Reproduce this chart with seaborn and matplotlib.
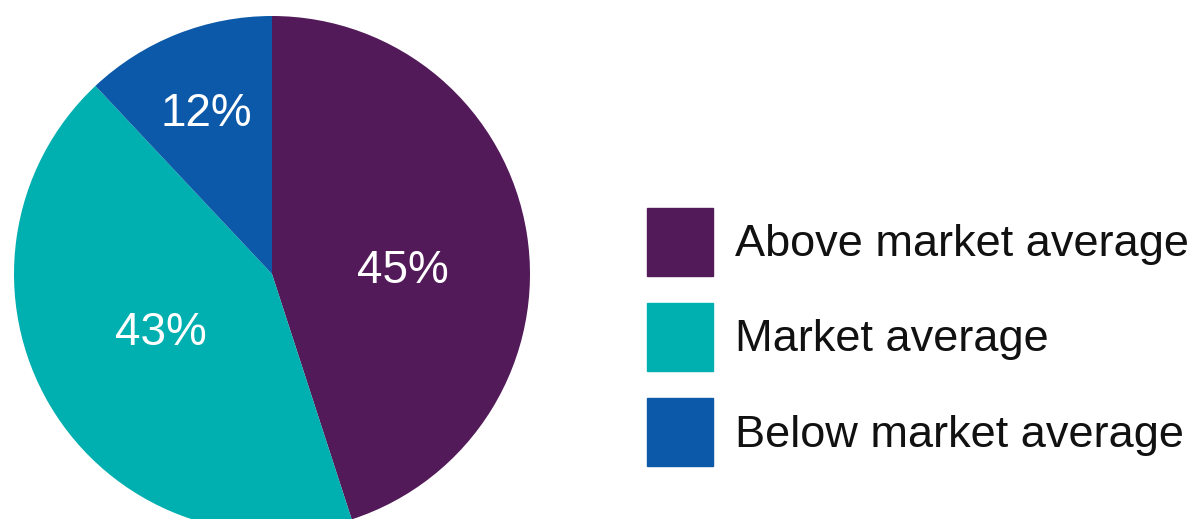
import numpy as np
import matplotlib
matplotlib.use("Agg")
import matplotlib.pyplot as plt
import matplotlib.patches as mpatches
import seaborn as sns

# data
categories = ["Above market average", "Market average", "Below market average"]
shares = [45, 43, 12]
hex_colors = ["#521A58", "#00AFAF", "#0B59A8"]
# where each % label sits: (fraction of radius, angle in degrees)
label_pos = [(0.51, 3.5), (0.48, -154), (0.69, 111.7)]

sns.set_theme(style="white")
plt.rcParams["font.family"] = ["Liberation Sans", "DejaVu Sans"]
palette = sns.color_palette(hex_colors)

fig = plt.figure(figsize=(12.03, 5.19), dpi=100)
ax = fig.add_axes([14 / 1203, -13 / 519, 516 / 1203, 516 / 519])

wedges, texts, autotexts = ax.pie(
    shares,
    colors=palette,
    startangle=90,
    counterclock=False,
    radius=1,
    autopct="%d%%",
    textprops=dict(color="white", fontsize=33),
    wedgeprops=dict(linewidth=0),
)
for t, (d, ang) in zip(autotexts, label_pos):
    a = np.deg2rad(ang)
    t.set_position((d * np.cos(a), d * np.sin(a)))
    t.set_ha("center")
    t.set_va("center_baseline")

ax.set_xlim(-1, 1)
ax.set_ylim(-1, 1)
ax.set_aspect("equal")
ax.axis("off")

handles = [mpatches.Patch(color=c, label=l) for c, l in zip(palette, categories)]
fig.legend(
    handles=handles,
    loc="upper left",
    bbox_to_anchor=(647 / 1203, (519 - 208) / 519),
    frameon=False,
    fontsize=32.5,
    labelcolor="#111111",
    handlelength=1.46,
    handleheight=1.94,
    handletextpad=0.49,
    labelspacing=0.6,
    borderpad=0,
    borderaxespad=0,
)

fig.savefig("out.png", dpi=100)
